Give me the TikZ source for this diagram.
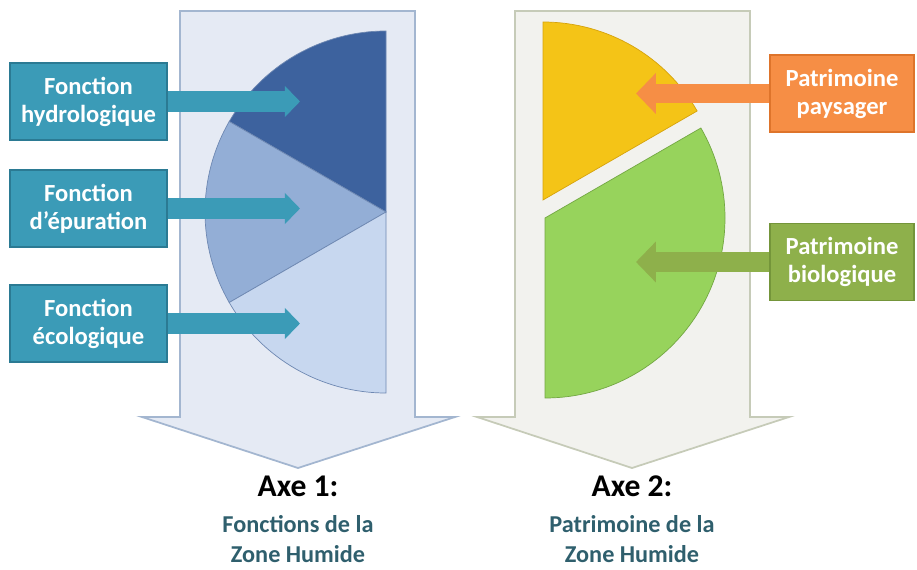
\documentclass[tikz,border=0pt]{standalone}
\usepackage{fontspec}
\setmainfont{Carlito}
\usetikzlibrary{arrows.meta}
\definecolor{fondbleu}{HTML}{E5EAF4}
\definecolor{bordbleu}{HTML}{A3B6D0}
\definecolor{bleufonce}{HTML}{3D629E}
\definecolor{bleumoyen}{HTML}{93AED6}
\definecolor{bleuclair}{HTML}{C7D7EF}
\definecolor{bordpart}{HTML}{6E88B2}
\definecolor{sarcelle}{HTML}{3B9BB7}
\definecolor{bordsarcelle}{HTML}{2B7A93}
\definecolor{fondgris}{HTML}{F2F2EE}
\definecolor{bordgris}{HTML}{C6CBB8}
\definecolor{jaune}{HTML}{F4C417}
\definecolor{bordjaune}{HTML}{D6A30C}
\definecolor{vert}{HTML}{97D35C}
\definecolor{bordvert}{HTML}{73A743}
\definecolor{orange}{HTML}{F68E45}
\definecolor{bordorange}{HTML}{DE742B}
\definecolor{olive}{HTML}{8EB04B}
\definecolor{bordolive}{HTML}{74953A}
\definecolor{textesarcelle}{HTML}{2F5F6D}
\begin{document}
\begin{tikzpicture}[x=0.02cm,y=0.02cm,
  boite/.style={rectangle, draw, line width=1pt, text=white, align=center,
    font=\bfseries\fontsize{14}{15.9}\selectfont, minimum height=1.54cm},
  flecheG/.style={line width=11.5pt, -{Triangle[length=0pt 0.75, width=0pt 1.5]}},
  flecheD/.style={line width=11.3pt, -{Triangle[length=0pt 1, width=0pt 2]}},
  titre/.style={font=\bfseries\fontsize{18}{20}\selectfont, text=black},
  soustitre/.style={font=\bfseries\fontsize{13.8}{17.5}\selectfont, text=textesarcelle, align=center, inner sep=0pt}]
\useasboundingbox (0,0) rectangle (917,569);
% Axe 1: big arrow going down
\draw[fill=fondbleu, draw=bordbleu, line width=1pt] (180,558) -- (415,558) -- (415,152) -- (455,152)
  -- (298,101) -- (142,152) -- (180,152) -- cycle;
% Half pie, three parts
\def\r{181}
\filldraw[fill=bleufonce, draw=bordpart] (386,357) -- ++(90:\r) arc (90:150:\r) -- cycle;
\filldraw[fill=bleumoyen, draw=bordpart] (386,357) -- ++(150:\r) arc (150:210:\r) -- cycle;
\filldraw[fill=bleuclair, draw=bordpart] (386,357) -- ++(210:\r) arc (210:270:\r) -- cycle;
% Axe 2: big arrow going down
\draw[fill=fondgris, draw=bordgris, line width=1pt] (515,558) -- (750,558) -- (750,152) -- (789,152)
  -- (632,101) -- (477,152) -- (515,152) -- cycle;
% Exploded half pie
\filldraw[fill=jaune, draw=bordjaune] (543,369) -- ++(30:178) arc (30:90:178) -- cycle;
\filldraw[fill=vert, draw=bordvert] (545,351) -- ++(-90:180) arc (-90:30:180) -- cycle;
% Targets of the arrows
\coordinate (cibleA) at (300,467.5);
\coordinate (cibleB) at (300,360.5);
\coordinate (cibleC) at (300,245.5);
\coordinate (cibleD) at (636,475.5);
\coordinate (cibleE) at (636,307);
% Left boxes
\node[boite, fill=sarcelle, draw=bordsarcelle, minimum width=3.14cm] (hydro) at (88.5,467.5) {Fonction\\hydrologique};
\node[boite, fill=sarcelle, draw=bordsarcelle, minimum width=3.14cm] (epur) at (88.5,360.5) {Fonction\\d’épuration};
\node[boite, fill=sarcelle, draw=bordsarcelle, minimum width=3.14cm] (eco) at (88.5,245.5) {Fonction\\écologique};
% Right boxes
\node[boite, fill=orange, draw=bordorange, minimum width=2.88cm] (pays) at (842,475.5) {Patrimoine\\paysager};
\node[boite, fill=olive, draw=bordolive, minimum width=2.88cm] (bio) at (842,307) {Patrimoine\\biologique};
% Arrows into the pies
\draw[flecheG, draw=sarcelle] (hydro.east) -- (cibleA);
\draw[flecheG, draw=sarcelle] (epur.east) -- (cibleB);
\draw[flecheG, draw=sarcelle] (eco.east) -- (cibleC);
\draw[flecheD, draw=orange] (pays.west) -- (cibleD);
\draw[flecheD, draw=olive] (bio.west) -- (cibleE);
% Labels under the arrows
\node[titre] (axeun) at (298,83) {Axe 1:};
\node[soustitre] (sousun) at (298,30) {Fonctions de la\\Zone Humide};
\node[titre] (axedeux) at (632,83) {Axe 2:};
\node[soustitre] (sousdeux) at (632,30) {Patrimoine de la\\Zone Humide};
\end{tikzpicture}
\end{document}
